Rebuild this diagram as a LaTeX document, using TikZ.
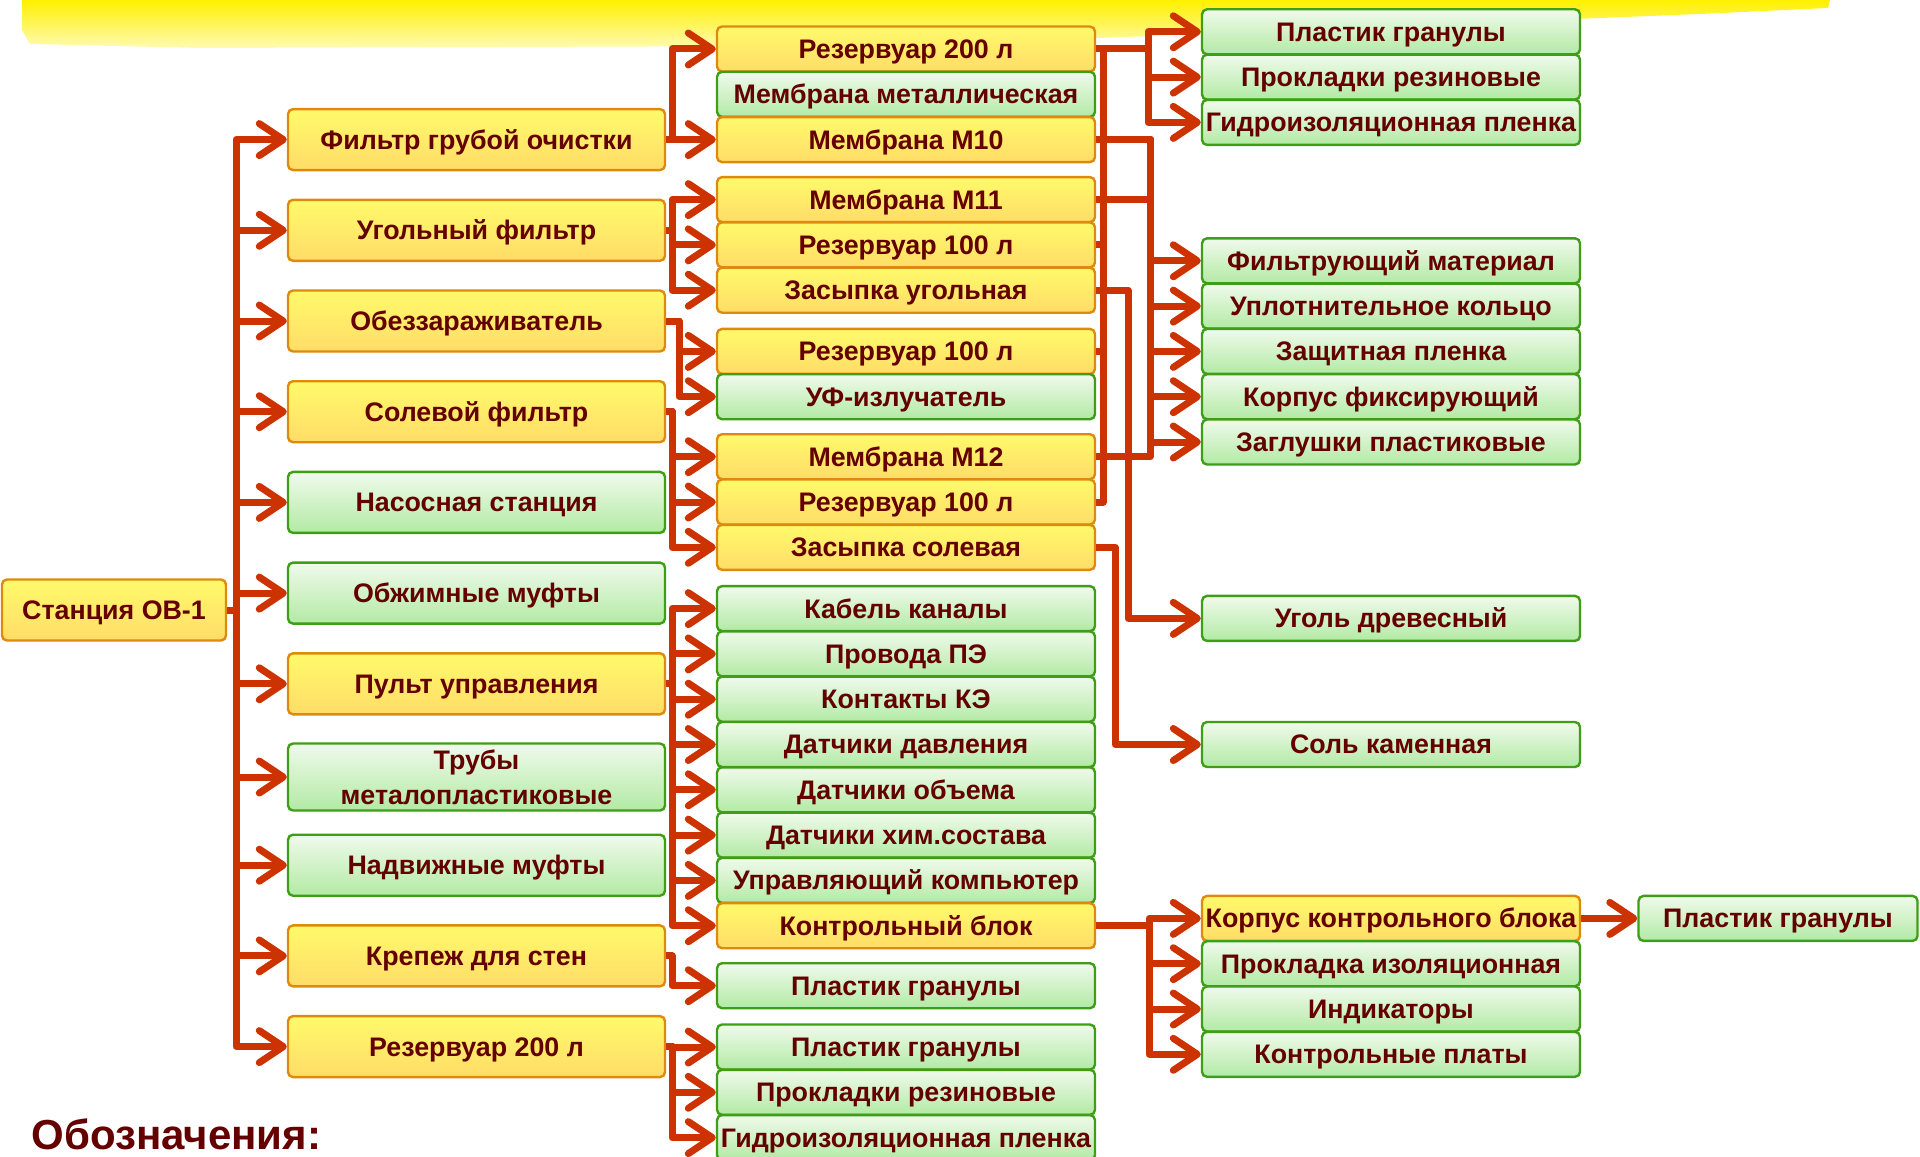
\documentclass[tikz,border=0pt]{standalone}
\usepackage{fontspec}
\setmainfont{Liberation Sans}
\usepackage{xcolor}
\usepackage{tikz}
\usetikzlibrary{positioning,arrows.meta}
\definecolor{ytop}{HTML}{FFFA6A}
\definecolor{ybot}{HTML}{FFDC68}
\definecolor{yedge}{HTML}{DD8A0E}
\definecolor{gtop}{HTML}{F0FAEC}
\definecolor{gbot}{HTML}{B2EAA4}
\definecolor{gedge}{HTML}{3E9E16}
\definecolor{txtred}{HTML}{640000}
\definecolor{arrred}{HTML}{CC3300}
\definecolor{band}{HTML}{FFF000}

\begin{document}
\begin{tikzpicture}[
        x=0.5pt, y=-0.5pt,
        box/.style={
            rectangle,
            line width=1.2pt,
            rounded corners=2.5pt,
            text=txtred,
            align=center,
            font=\fontsize{13.4}{14}\selectfont\bfseries,
            inner sep=0pt
        },
        ybox/.style={box, draw=yedge, top color=ytop, bottom color=ybot},
        gbox/.style={box, draw=gedge, top color=gtop, bottom color=gbot},
        mid/.style={text height=11.2pt, text depth=1.8pt},
        wide/.style={mid, minimum width=188.5pt, minimum height=30.5pt},
        row/.style={mid, minimum width=189pt, minimum height=22.5pt},
        link/.style={draw=arrred, line width=3.5pt, line join=round},
        arr/.style={link, -{Straight Barb[length=12pt, width=16pt, round]}}
    ]
        \useasboundingbox (0,0) rectangle (1920,1156);

        % yellow stroke behind the title
        \shade[top color=band, bottom color=band!30]
            (22,0) -- (1830,0) -- (1828,8) -- (1700,14) -- (1400,26) -- (1100,38)
            -- (800,46) -- (500,47) -- (200,48) -- (30,44) -- (22,30) -- cycle;

        % station
        \node[ybox, mid, minimum width=112pt, minimum height=30.5pt] (root) at (114,610) {Станция ОВ-1};

        % first level
        \node[ybox, wide] (fgo)  at (476.5,139.6)  {Фильтр грубой очистки};
        \node[ybox, wide] (ugf)  at (476.5,230.3)  {Угольный фильтр};
        \node[ybox, wide] (obz)  at (476.5,321)    {Обеззараживатель};
        \node[ybox, wide] (solf) at (476.5,411.7)  {Солевой фильтр};
        \node[gbox, wide] (nas)  at (476.5,502.4)  {Насосная станция};
        \node[gbox, wide] (obm)  at (476.5,593.1)  {Обжимные муфты};
        \node[ybox, wide] (pult) at (476.5,683.8)  {Пульт управления};
        \node[gbox, minimum width=188.5pt, minimum height=33.5pt, font=\fontsize{13.4}{17.7}\selectfont\bfseries]
                          (trub) at (476.5,777)    {Трубы\\металопластиковые};
        \node[gbox, wide] (nadv) at (476.5,865.2)  {Надвижные муфты};
        \node[ybox, wide] (krep) at (476.5,955.9)  {Крепеж для стен};
        \node[ybox, wide] (rez)  at (476.5,1046.6) {Резервуар 200 л};

        % second level
        \node[ybox, row] (r200)  at (906,49)     {Резервуар 200 л};
        \node[gbox, row] (mmet)  at (906,94.3)   {Мембрана металлическая};
        \node[ybox, row] (m10)   at (906,139.6)  {Мембрана М10};
        \node[ybox, row] (m11)   at (906,199.6)  {Мембрана М11};
        \node[ybox, row] (r100a) at (906,244.9)  {Резервуар 100 л};
        \node[ybox, row] (zug)   at (906,290.2)  {Засыпка угольная};
        \node[ybox, row] (r100b) at (906,351.4)  {Резервуар 100 л};
        \node[gbox, row] (uvf)   at (906,396.7)  {УФ-излучатель};
        \node[ybox, row] (m12)   at (906,456.7)  {Мембрана М12};
        \node[ybox, row] (r100c) at (906,502)    {Резервуар 100 л};
        \node[ybox, row] (zsol)  at (906,547.3)  {Засыпка солевая};
        \node[gbox, row] (kab)   at (906,608.6)  {Кабель каналы};
        \node[gbox, row] (prov)  at (906,653.9)  {Провода ПЭ};
        \node[gbox, row] (kont)  at (906,699.2)  {Контакты КЭ};
        \node[gbox, row] (ddav)  at (906,744.5)  {Датчики давления};
        \node[gbox, row] (dob)   at (906,789.8)  {Датчики объема};
        \node[gbox, row] (dhs)   at (906,835.1)  {Датчики хим.состава};
        \node[gbox, row] (upk)   at (906,880.4)  {Управляющий компьютер};
        \node[ybox, row] (kb)    at (906,925.7)  {Контрольный блок};
        \node[gbox, row] (plk)   at (906,985.7)  {Пластик гранулы};
        \node[gbox, row] (plr)   at (906,1047)   {Пластик гранулы};
        \node[gbox, row] (prr)   at (906,1092.3) {Прокладки резиновые};
        \node[gbox, row] (gir)   at (906,1137.6) {Гидроизоляционная пленка};

        % third level
        \node[gbox, row] (pg1) at (1391,31.8)   {Пластик гранулы};
        \node[gbox, row] (pr1) at (1391,77.1)   {Прокладки резиновые};
        \node[gbox, row] (gp1) at (1391,122.4)  {Гидроизоляционная пленка};
        \node[gbox, row] (fm)  at (1391,260.8)  {Фильтрующий материал};
        \node[gbox, row] (uk)  at (1391,306.1)  {Уплотнительное кольцо};
        \node[gbox, row] (zp)  at (1391,351.4)  {Защитная пленка};
        \node[gbox, row] (kf)  at (1391,396.7)  {Корпус фиксирующий};
        \node[gbox, row] (zpl) at (1391,442)    {Заглушки пластиковые};
        \node[gbox, row] (ud)  at (1391,618.4)  {Уголь древесный};
        \node[gbox, row] (sk)  at (1391,744.5)  {Соль каменная};
        \node[ybox, row] (kkb) at (1391,918.4)  {Корпус контрольного блока};
        \node[gbox, row] (pi)  at (1391,963.7)  {Прокладка изоляционная};
        \node[gbox, row] (ind) at (1391,1009)   {Индикаторы};
        \node[gbox, row] (kpl) at (1391,1054.3) {Контрольные платы};

        % fourth level
        \node[gbox, row, minimum width=139.5pt] (pg4) at (1778,918.4) {Пластик гранулы};

        % legend
        \node[anchor=base west, inner sep=0pt, text=txtred, font=\fontsize{21}{24}\selectfont\bfseries]
            (legend) at (31,1149) {Обозначения:};

        % bus lines
        \coordinate (trunk) at (236,0);
        \coordinate (bus1)  at (672,0);
        \coordinate (bus1b) at (679,0);
        \coordinate (tbus)  at (1103,0);
        \coordinate (pbus)  at (1148,0);
        \coordinate (mbus)  at (1150,0);
        \coordinate (ubus)  at (1128,0);
        \coordinate (sbus)  at (1115,0);
        \coordinate (kbus)  at (1149,0);

        % station -> first level
        \foreach \t in {fgo,ugf,obz,solf,nas,obm,pult,trub,nadv,krep,rez}
            \draw[arr] (root.east) -- (root.east -| trunk) |- (\t.west);

        % first -> second level
        \foreach \s/\t in {fgo/r200, fgo/m10, ugf/m11, ugf/r100a, ugf/zug,
                solf/m12, solf/r100c, solf/zsol, pult/kab, pult/prov, pult/kont,
                pult/ddav, pult/dob, pult/dhs, pult/upk, pult/kb, krep/plk,
                rez/plr, rez/prr, rez/gir}
            \draw[arr] (\s.east) -- (\s.east -| bus1) |- (\t.west);
        \foreach \t in {r100b, uvf}
            \draw[arr] (obz.east) -- (obz.east -| bus1b) |- (\t.west);

        % tanks
        \foreach \s in {r100a, r100b, r100c}
            \draw[link] (\s.east) -| (tbus |- r200.east);
        \foreach \t in {pg1, pr1, gp1}
            \draw[arr] (r200.east) -- (r200.east -| pbus) |- (\t.west);

        % membranes
        \foreach \s in {m11, m12}
            \draw[link] (\s.east) -| (mbus |- m10.east);
        \foreach \t in {fm, uk, zp, kf, zpl}
            \draw[arr] (m10.east) -- (m10.east -| mbus) |- (\t.west);

        % fillings
        \draw[arr] (zug.east) -- (zug.east -| ubus) |- (ud.west);
        \draw[arr] (zsol.east) -- (zsol.east -| sbus) |- (sk.west);

        % control unit
        \foreach \t in {kkb, pi, ind, kpl}
            \draw[arr] (kb.east) -- (kb.east -| kbus) |- (\t.west);
        \draw[arr] (kkb) -- (pg4);
    \end{tikzpicture}
\end{document}
